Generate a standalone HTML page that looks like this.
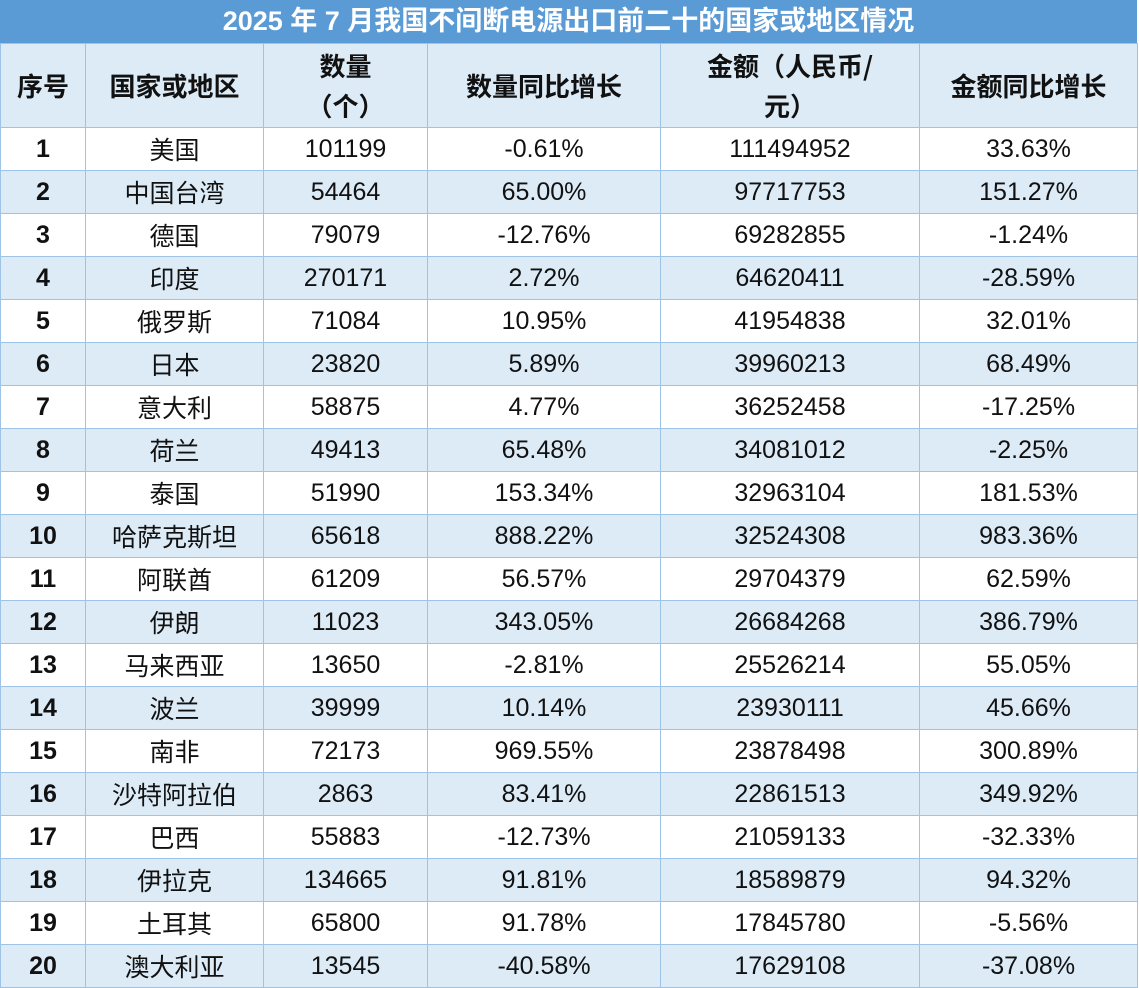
<!DOCTYPE html>
<html><head><meta charset="utf-8"><style>
html,body{margin:0;padding:0;background:#fff;width:1139px;height:986px;overflow:hidden}
body{font-family:"Liberation Sans","Noto Sans CJK SC",sans-serif}
#title{position:absolute;left:0;top:0;width:1137px;height:43px;background:#5b9bd5;color:#fff;font-weight:bold;font-size:27px;line-height:43px;text-align:center;font-family:"Liberation Sans","Noto Sans CJK SC",sans-serif}
table{position:absolute;left:0;top:43px;border-collapse:collapse;table-layout:fixed;width:1137px}
td,th{border:1px solid #9dc3e6;text-align:center;padding:0;font-size:25px;color:#111;white-space:nowrap;vertical-align:middle;line-height:1}
th{height:83px;background:#ddebf7;font-weight:bold;font-size:26px;line-height:40px;white-space:normal;font-family:"Noto Sans CJK SC",sans-serif}
th span{display:block;height:40px}
td{height:42px}
tr.alt td{background:#ddebf7}
td.num{font-weight:bold}
td.cn{font-family:"Noto Sans CJK SC",sans-serif;font-size:25px;line-height:1}
</style></head><body>
<div id="title">2025 年 7 月我国不间断电源出口前二十的国家或地区情况</div>
<table id="tbl">
<colgroup><col style="width:85px"><col style="width:178px"><col style="width:164px"><col style="width:233px"><col style="width:259px"><col style="width:218px"></colgroup>
<thead><tr>
<th>序号</th>
<th>国家或地区</th>
<th>数量<br>（个）</th>
<th>数量同比增长</th>
<th>金额（人民币/<br>元）</th>
<th>金额同比增长</th>
</tr></thead>
<tbody id="tb"></tbody>
</table>
<script>
const countries=["美国","中国台湾","德国","印度","俄罗斯","日本","意大利","荷兰","泰国","哈萨克斯坦","阿联酋","伊朗","马来西亚","波兰","南非","沙特阿拉伯","巴西","伊拉克","土耳其","澳大利亚"];
const quantities=[101199,54464,79079,270171,71084,23820,58875,49413,51990,65618,61209,11023,13650,39999,72173,2863,55883,134665,65800,13545];
const quantityYoy=["-0.61%","65.00%","-12.76%","2.72%","10.95%","5.89%","4.77%","65.48%","153.34%","888.22%","56.57%","343.05%","-2.81%","10.14%","969.55%","83.41%","-12.73%","91.81%","91.78%","-40.58%"];
const amounts=[111494952,97717753,69282855,64620411,41954838,39960213,36252458,34081012,32963104,32524308,29704379,26684268,25526214,23930111,23878498,22861513,21059133,18589879,17845780,17629108];
const amountYoy=["33.63%","151.27%","-1.24%","-28.59%","32.01%","68.49%","-17.25%","-2.25%","181.53%","983.36%","62.59%","386.79%","55.05%","45.66%","300.89%","349.92%","-32.33%","94.32%","-5.56%","-37.08%"];
const tb=document.getElementById('tb');
const names=['index','country','quantity','quantity-yoy','amount','amount-yoy'];
countries.forEach((c,i)=>{
  const tr=document.createElement('tr');
  
  
  if(i%2===1)tr.className='alt';
  const vals=[i+1,c,quantities[i],quantityYoy[i],amounts[i],amountYoy[i]];
  vals.forEach((v,j)=>{
    const td=document.createElement('td');
    
    
    if(j===0)td.className='num';
    if(j===1)td.className='cn';
    td.textContent=v;
    tr.appendChild(td);
  });
  tb.appendChild(tr);
});
</script>
</body></html>
